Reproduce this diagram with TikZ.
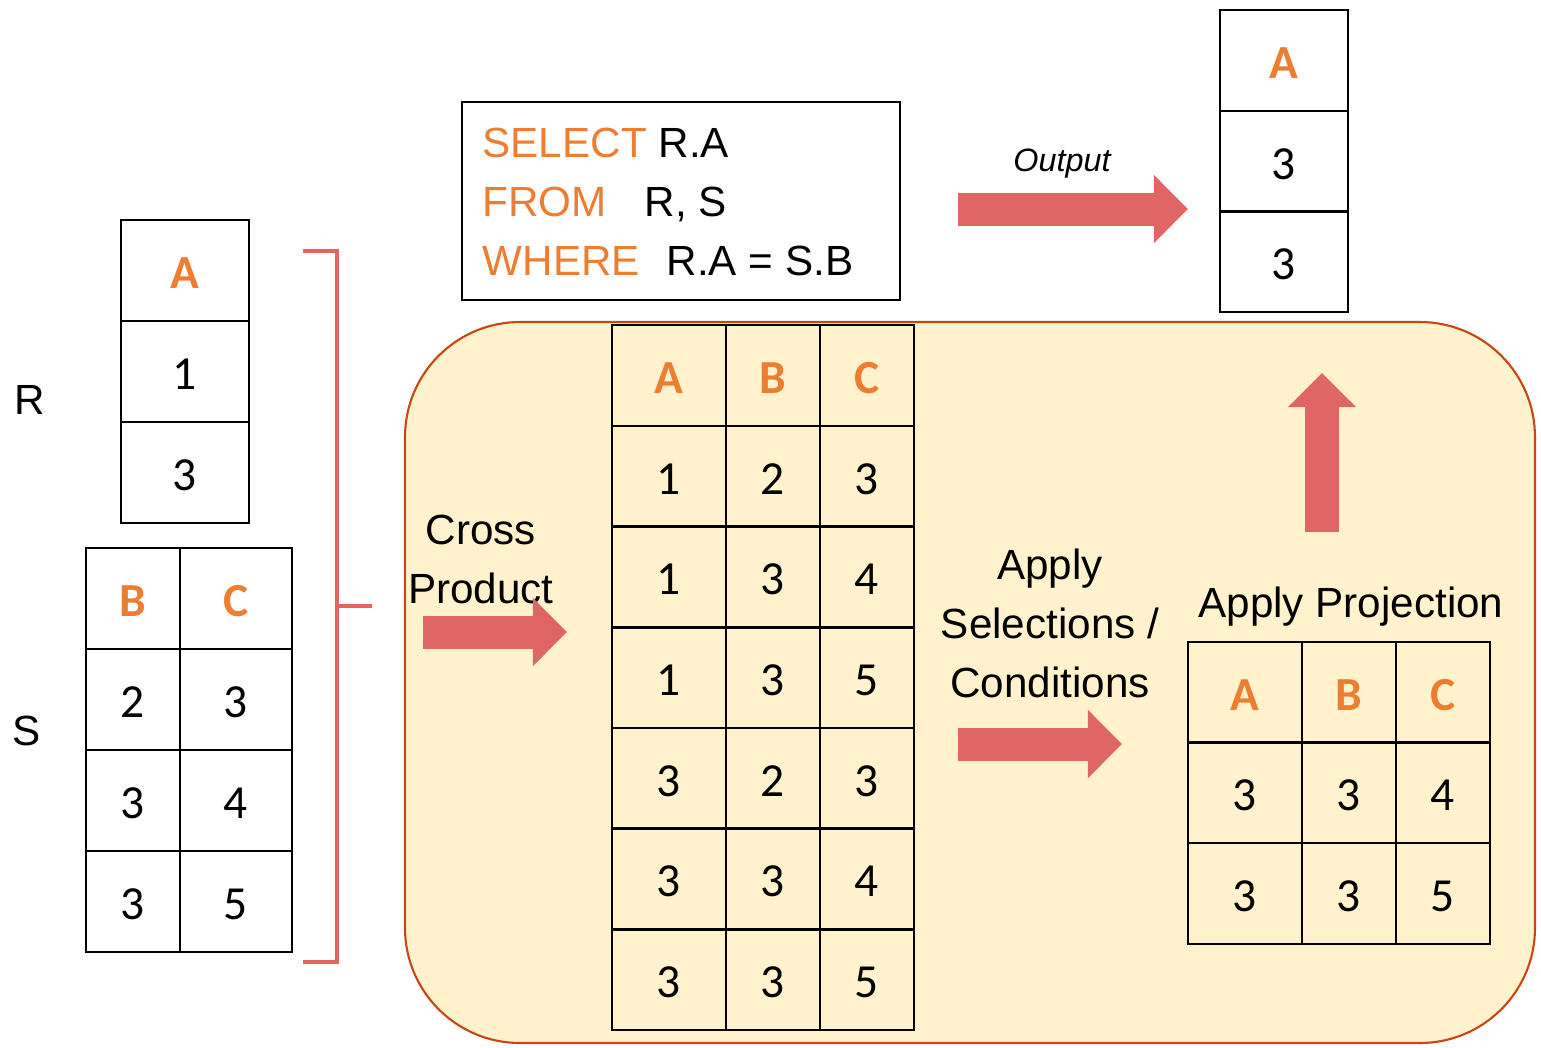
\documentclass[tikz,border=0pt]{standalone}
\usepackage{fontspec}
\setmainfont{Liberation Sans}
\newfontfamily\tabfont{Carlito}
\usetikzlibrary{arrows.meta}

\definecolor{hdorange}{HTML}{ED7D31}
\definecolor{arrowred}{HTML}{E06666}
\definecolor{boxfill}{HTML}{FFF2CC}
\definecolor{boxline}{RGB}{200,70,20}

\tikzset{
  cell/.style={draw, line width=0.6pt, inner sep=0pt, minimum height=1.01cm, text height=10.2pt, text depth=0pt, font=\tabfont\fontsize{13.5}{16}\selectfont},
  hcell/.style={cell, text=hdorange, font=\tabfont\bfseries\fontsize{13.5}{16}\selectfont},
  lbl/.style={font=\fontsize{12}{16.8}\selectfont, align=center},
  fatarrow/.style={line width=0.33cm, arrowred, -{Triangle[length=0.34cm,width=0.66cm]}},
  bracket/.style={line width=1.15pt, arrowred}
}

\begin{document}
\begin{tikzpicture}[x=0.01cm, y=-0.01cm]
  \useasboundingbox (0,0) rectangle (1541,1047);

  % background panel
  \draw[boxline, fill=boxfill, line width=0.6pt, rounded corners=1.15cm] (405,322) rectangle (1535,1043);

  % relation R
  \node[lbl] (Rname) at (30,400) {R};
  \node[hcell, minimum width=1.28cm] (R-0) at (185,270.5) {A};
  \foreach \v [count=\i] in {1,3}
    \node[cell, minimum width=1.28cm] (R-\i) at (185,270.5+101*\i) {\v};

  % relation S
  \node[lbl] (Sname) at (27,731) {S};
  \node[hcell, minimum width=0.94cm] (S-0-1) at (133,598.5) {B};
  \node[hcell, minimum width=1.12cm] (S-0-2) at (236,598.5) {C};
  \foreach \b/\c [count=\i] in {2/3,3/4,3/5} {
    \node[cell, minimum width=0.94cm] (S-\i-1) at (133,598.5+101*\i) {\b};
    \node[cell, minimum width=1.12cm] (S-\i-2) at (236,598.5+101*\i) {\c};
  }

  % bracket
  \draw[bracket] (303,251) -- (337,251) -- (337,962) -- (303,962);
  \draw[bracket] (337,606) -- (372,606);

  % query
  \draw[line width=0.6pt] (462,102) rectangle (900,300);
  \node[lbl, inner xsep=0pt, anchor=base west] (q-1) at (482,157) {{\color{hdorange}SELECT} R.A};
  \node[lbl, inner xsep=0pt, anchor=base west] (q-2) at (482,216) {{\color{hdorange}FROM}\hspace{0.38cm}R, S};
  \node[lbl, inner xsep=0pt, anchor=base west] (q-3) at (482,275) {{\color{hdorange}WHERE}\hspace{0.27cm}R.A = S.B};

  % cross product
  \node[lbl] (cross) at (481,559) {Cross\\Product};
  \draw[fatarrow] (423,632) -- (567,632);
  \node[hcell, minimum width=1.14cm] (X-0-1) at (669,375.5) {A};
  \node[hcell, minimum width=0.94cm] (X-0-2) at (773,375.5) {B};
  \node[hcell, minimum width=0.94cm] (X-0-3) at (867,375.5) {C};
  \foreach \a/\b/\c [count=\i] in {1/2/3,1/3/4,1/3/5,3/2/3,3/3/4,3/3/5} {
    \node[cell, minimum width=1.14cm] (X-\i-1) at (669,375.5+100.7*\i) {\a};
    \node[cell, minimum width=0.94cm] (X-\i-2) at (773,375.5+100.7*\i) {\b};
    \node[cell, minimum width=0.94cm] (X-\i-3) at (867,375.5+100.7*\i) {\c};
  }

  % selection
  \node[lbl] (select) at (1050,623) {Apply\\Selections /\\Conditions};
  \draw[fatarrow] (958,744) -- (1122,744);

  % projection
  \node[lbl] (project) at (1351,607) {Apply Projection};
  \node[hcell, minimum width=1.14cm] (P-0-1) at (1245,692.5) {A};
  \node[hcell, minimum width=0.94cm] (P-0-2) at (1349,692.5) {B};
  \node[hcell, minimum width=0.94cm] (P-0-3) at (1443,692.5) {C};
  \foreach \a/\b/\c [count=\i] in {3/3/4,3/3/5} {
    \node[cell, minimum width=1.14cm] (P-\i-1) at (1245,692.5+100.3*\i) {\a};
    \node[cell, minimum width=0.94cm] (P-\i-2) at (1349,692.5+100.3*\i) {\b};
    \node[cell, minimum width=0.94cm] (P-\i-3) at (1443,692.5+100.3*\i) {\c};
  }
  \draw[fatarrow] (1322,532) -- (1322,373);

  % output
  \node[font=\itshape\fontsize{9.2}{11}\selectfont] (outlbl) at (1062,164) {Output};
  \draw[fatarrow] (958,209) -- (1188,209);
  \node[hcell, minimum width=1.28cm] (O-0) at (1284,60.5) {A};
  \foreach \v [count=\i] in {3,3}
    \node[cell, minimum width=1.28cm] (O-\i) at (1284,60.5+100.7*\i) {\v};
\end{tikzpicture}
\end{document}
